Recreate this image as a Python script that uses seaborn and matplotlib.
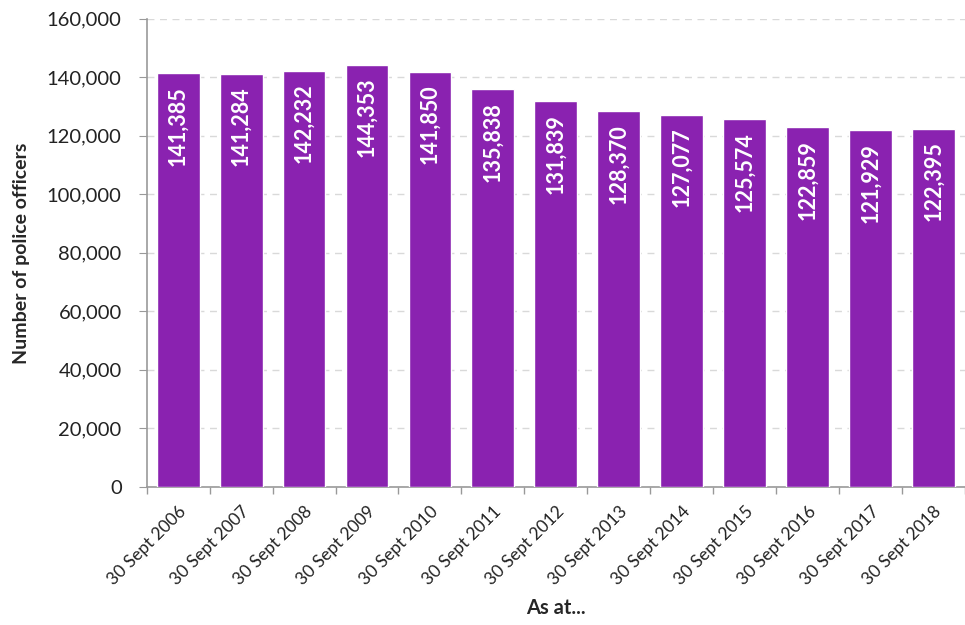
import matplotlib
matplotlib.use("Agg")
import matplotlib.pyplot as plt
import seaborn as sns
import pandas as pd
from matplotlib.ticker import FuncFormatter, FixedLocator

# data
dates = ['30 Sept 2006', '30 Sept 2007', '30 Sept 2008', '30 Sept 2009',
         '30 Sept 2010', '30 Sept 2011', '30 Sept 2012', '30 Sept 2013',
         '30 Sept 2014', '30 Sept 2015', '30 Sept 2016', '30 Sept 2017',
         '30 Sept 2018']
officers = [141385, 141284, 142232, 144353, 141850, 135838, 131839,
            128370, 127077, 125574, 122859, 121929, 122395]

df = pd.DataFrame({'date': dates, 'officers': officers})

sns.set_style('white')
plt.rcParams['font.family'] = ['Lato', 'DejaVu Sans']

fig = plt.figure(figsize=(9.65, 6.25), dpi=100)
ax = fig.add_axes([0.152, 0.221, 0.848, 0.749])

sns.barplot(data=df, x='date', y='officers', color='#8a22b0', width=0.68,
            saturation=1, ax=ax, zorder=3)

for i, v in enumerate(officers):
    ax.text(i, v - 4300, f'{v:,}', rotation=90, ha='center', va='top',
            color='white', fontsize=15.5, fontweight='bold', zorder=4)

ax.set_ylim(0, 160000)
ax.set_xlim(-0.5, len(dates) - 0.5)
ax.set_yticks(range(0, 160001, 20000))
ax.yaxis.set_major_formatter(FuncFormatter(lambda v, p: f'{int(v):,}'))
ax.grid(axis='y', color='#d9d9d9', linestyle=(0, (5, 4)), linewidth=1, zorder=0)

ax.set_xticks(range(len(dates)))
ax.set_xticklabels(dates, rotation=45, ha='right', rotation_mode='anchor')
ax.xaxis.set_minor_locator(FixedLocator([i - 0.5 for i in range(len(dates) + 1)]))
ax.tick_params(axis='x', which='major', length=0, pad=12, labelsize=12.5, colors='#222222')
ax.tick_params(axis='x', which='minor', length=5, color='#999999', width=1, bottom=True)
ax.tick_params(axis='y', length=6, color='#999999', labelsize=14.5, pad=12, left=True)
ax.tick_params(axis='y', labelcolor='#222222')

for s in ['top', 'right']:
    ax.spines[s].set_visible(False)
for s in ['left', 'bottom']:
    ax.spines[s].set_color('#999999')
    ax.spines[s].set_linewidth(1.2)

ax.set_xlabel('As at...', fontsize=14.5, fontweight='bold', labelpad=7)
ax.set_ylabel('Number of police officers', fontsize=14, fontweight='bold', labelpad=12)

fig.savefig('out.png', dpi=100)
